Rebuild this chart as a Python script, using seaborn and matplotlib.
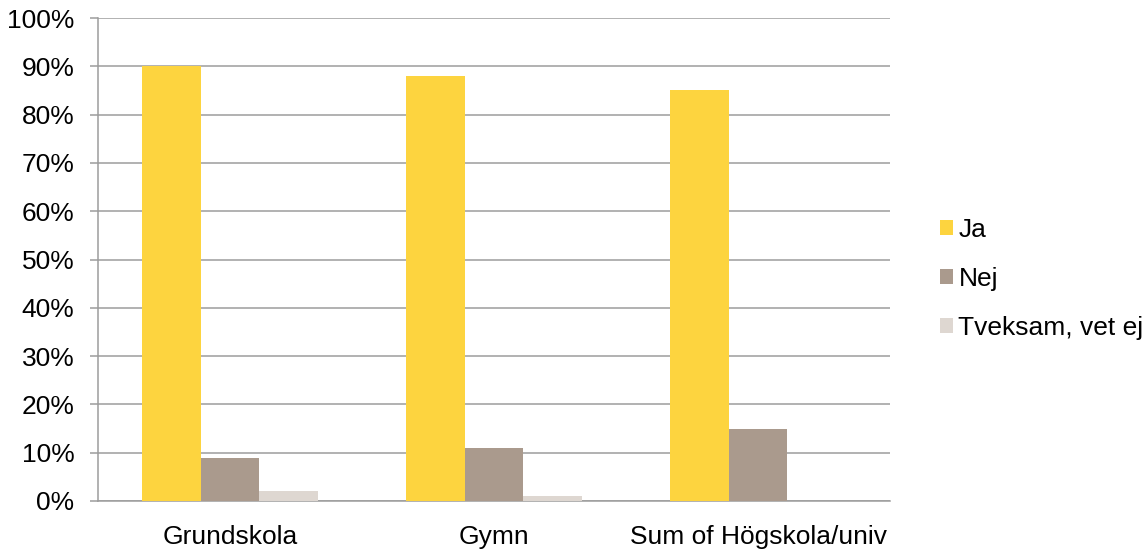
import matplotlib
matplotlib.use("Agg")
import matplotlib.pyplot as plt
from matplotlib.ticker import MultipleLocator, PercentFormatter, FixedLocator
import seaborn as sns
import pandas as pd

# Survey answers per education level (share of respondents, %)
categories = ["Grundskola", "Gymn", "Sum of Högskola/univ"]
answers = ["Ja", "Nej", "Tveksam, vet ej"]
ja = [90, 88, 85]
nej = [9, 11, 15]
tveksam = [2, 1, 0]
colors = ["#FDD43F", "#AA9A8D", "#DED7D1"]

rows = []
for cat, a, b, c in zip(categories, ja, nej, tveksam):
    rows.append({"kategori": cat, "svar": answers[0], "andel": a})
    rows.append({"kategori": cat, "svar": answers[1], "andel": b})
    rows.append({"kategori": cat, "svar": answers[2], "andel": c})
df = pd.DataFrame(rows)

sns.set_style("white")
plt.rcParams["font.family"] = ["Liberation Sans", "DejaVu Sans"]

fig = plt.figure(figsize=(11.47, 5.49), dpi=100)
ax = fig.add_axes([98 / 1147, 1 - 501 / 549, (890 - 98) / 1147, (501 - 18) / 549])

sns.barplot(data=df, x="kategori", y="andel", hue="svar", order=categories,
            hue_order=answers, palette=colors, saturation=1, width=0.67,
            linewidth=0, ax=ax, zorder=3)

grid_color = "#9C9C9C"
ax.set_ylim(0, 100)
ax.set_xlim(-0.5, 2.5)
ax.yaxis.set_major_locator(MultipleLocator(10))
ax.yaxis.set_major_formatter(PercentFormatter(decimals=0))
ax.grid(axis="y", color=grid_color, linewidth=1.1, zorder=0)
ax.set_axisbelow(True)

for side in ["top", "right"]:
    ax.spines[side].set_visible(False)
for side in ["left", "bottom"]:
    ax.spines[side].set_color(grid_color)
    ax.spines[side].set_linewidth(1.1)

ax.set_xlabel("")
ax.set_ylabel("")
ax.tick_params(axis="x", which="major", length=0, pad=17, labelsize=19, labelcolor="black")
ax.xaxis.set_minor_locator(FixedLocator([-0.5, 0.5, 1.5, 2.5]))
ax.tick_params(axis="x", which="minor", length=8, width=1.1, color=grid_color, direction="out")
ax.tick_params(axis="y", length=6, width=1.1, color=grid_color, direction="out",
               pad=11, labelsize=19, labelcolor="black", left=True)

handles, labels = ax.get_legend_handles_labels()
ax.get_legend().remove()
fig.legend(handles, labels, loc="center left", bbox_to_anchor=(940 / 1147, 1 - 279 / 549),
           frameon=False, fontsize=19, borderpad=0, borderaxespad=0, labelcolor="black",
           handlelength=0.5, handleheight=0.5, handletextpad=0.2, labelspacing=0.94)

fig.savefig("out.png", dpi=100)
